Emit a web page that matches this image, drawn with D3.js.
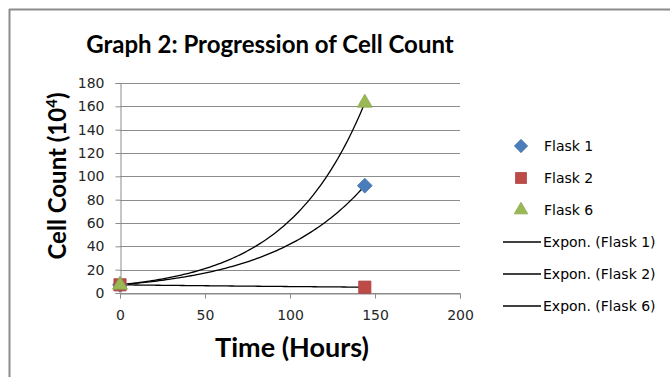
<!DOCTYPE html>
<html><head><meta charset="utf-8">
<script src="https://cdn.jsdelivr.net/npm/d3@7"></script>
<style>
html,body{margin:0;padding:0;background:#fff;}
svg{display:block;}
</style></head>
<body>
<svg id="c" width="670" height="377"></svg>
<script>
const hours = [0, 144];
const flask1 = [7, 92];
const flask2 = [7, 5];
const flask6 = [7, 163];
const xTicks = [0, 50, 100, 150, 200];
const yTicks = [0, 20, 40, 60, 80, 100, 120, 140, 160, 180];
const seriesNames = ["Flask 1", "Flask 2", "Flask 6"];
const seriesColors = ["#4a7ebb", "#be4b48", "#98b954"];
const trendNames = ["Expon. (Flask 1)", "Expon. (Flask 2)", "Expon. (Flask 6)"];

const svg = d3.select("#c");
const tickFont = "'DejaVu Sans', Verdana, sans-serif";
const titleFont = "Lato, 'Open Sans', sans-serif";
// outer frame
svg.append("line").attr("x1",9).attr("y1",9.5).attr("x2",670).attr("y2",9.5).attr("stroke","#8c8c8c").attr("stroke-width",2);
svg.append("line").attr("x1",9.5).attr("y1",9).attr("x2",9.5).attr("y2",377).attr("stroke","#8c8c8c").attr("stroke-width",2);

const x = d3.scaleLinear().domain([0,200]).range([120,460]);
const y = d3.scaleLinear().domain([0,180]).range([293,83]);

// gridlines
svg.append("g").selectAll("line").data(yTicks).join("line")
  .attr("x1",x(0)).attr("x2",x(200))
  .attr("y1",d=>Math.round(y(d))+0.5).attr("y2",d=>Math.round(y(d))+0.5)
  .attr("stroke","#8c8c8c").attr("stroke-width",1);

// y axis
const ya = svg.append("g").attr("transform",`translate(${x(0)+0.5},0)`)
  .call(d3.axisLeft(y).tickValues(yTicks).tickSize(5).tickPadding(11));
ya.select(".domain").attr("stroke","#8c8c8c");
ya.selectAll(".tick line").attr("stroke","#8c8c8c");
ya.selectAll(".tick text").style("font-size","14px").attr("fill","#262626").style("font-family",tickFont);

// x axis
const xa = svg.append("g").attr("transform",`translate(0,${Math.round(y(0))+0.5})`)
  .call(d3.axisBottom(x).tickValues(xTicks).tickSize(5).tickPadding(12));
xa.select(".domain").attr("stroke","#8c8c8c");
xa.selectAll(".tick line").attr("stroke","#8c8c8c");
xa.selectAll(".tick text").style("font-size","14px").attr("fill","#262626").style("font-family",tickFont);

// exponential trendlines (least squares on ln y)
const series = [flask1, flask2, flask6];
function expFit(xs, ys){
  const ly = ys.map(Math.log);
  const mx = d3.mean(xs), my = d3.mean(ly);
  let num=0, den=0;
  xs.forEach((v,i)=>{num+=(v-mx)*(ly[i]-my); den+=(v-mx)*(v-mx);});
  const b = num/den, a = Math.exp(my-b*mx);
  return t=>a*Math.exp(b*t);
}
const line = d3.line().x(d=>x(d[0])).y(d=>y(d[1]));
series.forEach(s=>{
  const f = expFit(hours, s);
  const pts = d3.range(0, 101).map(i=>{const t = hours[0]+(hours[hours.length-1]-hours[0])*i/100; return [t, f(t)];});
  svg.append("path").attr("d",line(pts)).attr("fill","none").attr("stroke","#000").attr("stroke-width",1.3);
});

// markers
const sym = [d3.symbolDiamond2, d3.symbolSquare2, d3.symbolTriangle2];
const sizes = [140, 190, 160];
series.forEach((s,k)=>{
  svg.append("g").selectAll("path").data(hours.map((h,i)=>[h,s[i]])).join("path")
    .attr("transform",d=>`translate(${x(d[0])},${y(d[1])})`)
    .attr("d",d3.symbol().type(sym[k]).size(sizes[k]))
    .attr("fill",seriesColors[k]).attr("stroke",d3.color(seriesColors[k]).darker(0.3)).attr("stroke-width",0.8);
});

// title
svg.append("text").attr("x",270).attr("y",53).attr("text-anchor","middle")
  .style("font-family",titleFont).style("font-size","24px").attr("font-weight","bold").attr("fill","#000")
  .text("Graph 2: Progression of Cell Count");

// axis titles
svg.append("text").attr("x",292).attr("y",357).attr("text-anchor","middle")
  .style("font-family",titleFont).style("font-size","27px").attr("font-weight","bold").text("Time (Hours)");
const yt = svg.append("text").attr("transform","translate(66,176) rotate(-90)").attr("text-anchor","middle")
  .style("font-family",titleFont).style("font-size","24px").attr("font-weight","bold");
yt.append("tspan").text("Cell Count (10");
yt.append("tspan").style("font-size","15px").attr("dy",-9).text("4");
yt.append("tspan").attr("dy",9).text(")");

// legend
const lg = svg.append("g");
const rowY = [146, 178, 210, 242, 274, 306];
seriesNames.forEach((n,k)=>{
  lg.append("path").attr("transform",`translate(521,${rowY[k]})`)
    .attr("d",d3.symbol().type(sym[k]).size(sizes[k]*0.8))
    .attr("fill",seriesColors[k]).attr("stroke",d3.color(seriesColors[k]).darker(0.3)).attr("stroke-width",0.8);
  lg.append("text").attr("x",544).attr("y",rowY[k]+5).style("font-size","14px").style("font-family",tickFont).attr("fill","#000").text(n);
});
trendNames.forEach((n,k)=>{
  const yy = rowY[k+3];
  lg.append("line").attr("x1",503).attr("x2",541).attr("y1",yy).attr("y2",yy).attr("stroke","#000").attr("stroke-width",1.3);
  lg.append("text").attr("x",543).attr("y",yy+5).style("font-size","14px").style("font-family",tickFont).attr("fill","#000").text(n);
});
</script>
</body></html>
